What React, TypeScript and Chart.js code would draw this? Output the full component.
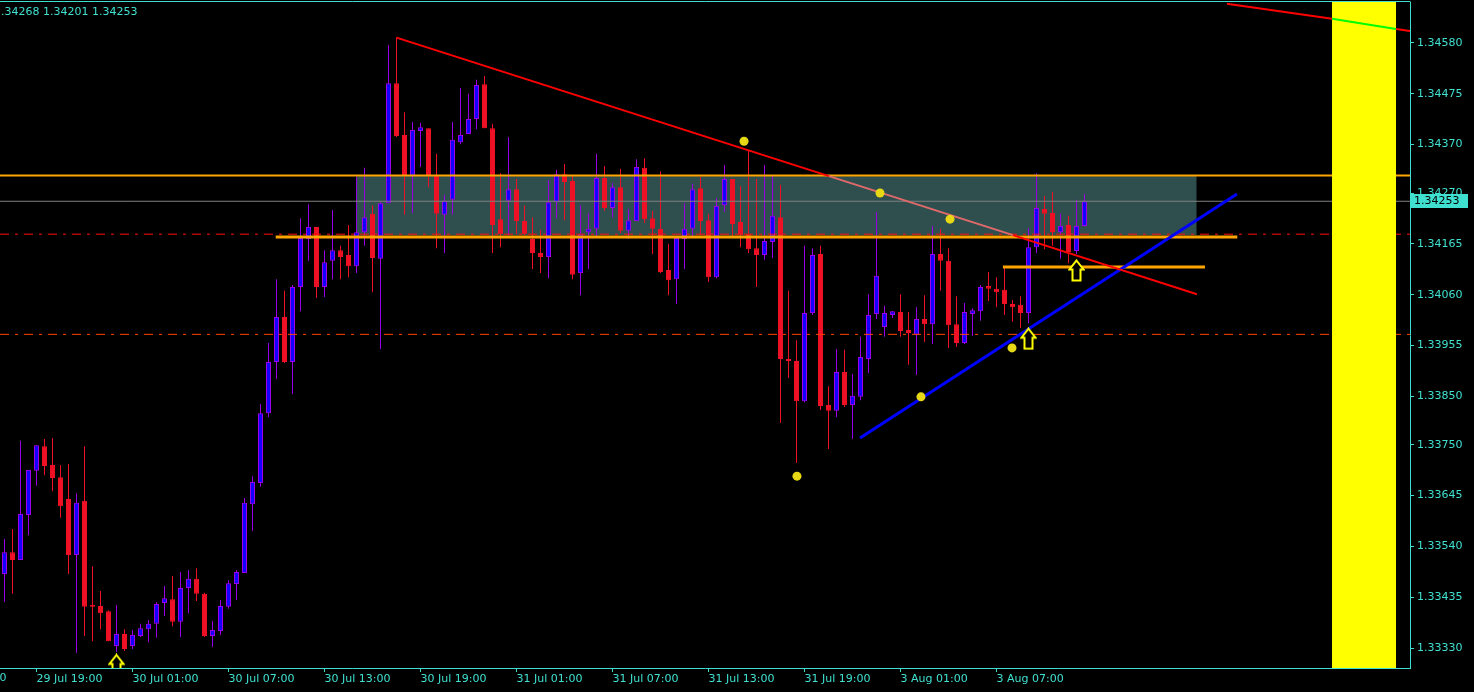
import React, { useEffect, useRef } from "react";
import { Chart, registerables } from "chart.js";

Chart.register(...registerables);

// ---- candle data (M30 bars, index 0 = 29 Jul 17:00) ----
const OPEN = [
  1.33483, 1.33528, 1.33512, 1.33605, 1.33696, 1.33747, 1.33708, 1.33683, 1.33638, 1.33522,
  1.33634, 1.33419, 1.33417, 1.33406, 1.33334, 1.33359, 1.33334, 1.33355, 1.33369, 1.33380,
  1.33423, 1.33431, 1.33384, 1.33454, 1.33473, 1.33442, 1.33355, 1.33365, 1.33415, 1.33462,
  1.33485, 1.33627, 1.33671, 1.33815, 1.33921, 1.34014, 1.33921, 1.34076, 1.34175, 1.34200,
  1.34076, 1.34130, 1.34152, 1.34142, 1.34119, 1.34189, 1.34227, 1.34134, 1.34249, 1.34497,
  1.34390, 1.34305, 1.34398, 1.34404, 1.34305, 1.34225, 1.34256, 1.34375, 1.34392, 1.34423,
  1.34495, 1.34404, 1.34216, 1.34254, 1.34278, 1.34212, 1.34175, 1.34146, 1.34138, 1.34251,
  1.34309, 1.34295, 1.34105, 1.34189, 1.34196, 1.34301, 1.34239, 1.34282, 1.34192, 1.34212,
  1.34322, 1.34218, 1.34196, 1.34111, 1.34092, 1.34175, 1.34196, 1.34280, 1.34214, 1.34096,
  1.34245, 1.34299, 1.34210, 1.34185, 1.34156, 1.34142, 1.34169, 1.34220, 1.33927, 1.33923,
  1.33840, 1.34022, 1.34144, 1.33832, 1.33820, 1.33900, 1.33832, 1.33849, 1.33927, 1.34020,
  1.33993, 1.34018, 1.34024, 1.33987, 1.33977, 1.34010, 1.33999, 1.34144, 1.34130, 1.33999,
  1.33960, 1.34020, 1.34026, 1.34078, 1.34072, 1.34070, 1.34041, 1.34039, 1.34022, 1.34158,
  1.34237, 1.34229, 1.34189, 1.34204, 1.34150, 1.34202,
];
const HIGH = [
  1.33555, 1.33576, 1.33758, 1.33698, 1.33749, 1.33762, 1.33764, 1.33708, 1.33710, 1.33650,
  1.33747, 1.33499, 1.33448, 1.33408, 1.33419, 1.33369, 1.33367, 1.33380, 1.33388, 1.33425,
  1.33458, 1.33479, 1.33487, 1.33491, 1.33495, 1.33444, 1.33386, 1.33429, 1.33470, 1.33491,
  1.33640, 1.33685, 1.33834, 1.33960, 1.34092, 1.34068, 1.34080, 1.34218, 1.34247, 1.34200,
  1.34152, 1.34235, 1.34161, 1.34204, 1.34303, 1.34322, 1.34245, 1.34251, 1.34576, 1.34592,
  1.34437, 1.34417, 1.34415, 1.34404, 1.34351, 1.34266, 1.34417, 1.34487, 1.34475, 1.34504,
  1.34512, 1.34413, 1.34311, 1.34386, 1.34299, 1.34245, 1.34220, 1.34194, 1.34297, 1.34318,
  1.34330, 1.34305, 1.34245, 1.34229, 1.34351, 1.34326, 1.34291, 1.34320, 1.34237, 1.34340,
  1.34342, 1.34233, 1.34315, 1.34165, 1.34177, 1.34249, 1.34289, 1.34303, 1.34227, 1.34260,
  1.34328, 1.34299, 1.34284, 1.34357, 1.34299, 1.34328, 1.34307, 1.34287, 1.34068, 1.33966,
  1.34161, 1.34156, 1.34161, 1.33871, 1.33948, 1.33946, 1.33896, 1.33973, 1.34061, 1.34231,
  1.34037, 1.34026, 1.34061, 1.34024, 1.34034, 1.34059, 1.34202, 1.34196, 1.34156, 1.34057,
  1.34043, 1.34032, 1.34080, 1.34107, 1.34096, 1.34117, 1.34049, 1.34057, 1.34198, 1.34311,
  1.34264, 1.34272, 1.34227, 1.34223, 1.34256, 1.34268,
];
const LOW = [
  1.33425, 1.33442, 1.33512, 1.33563, 1.33665, 1.33687, 1.33654, 1.33599, 1.33483, 1.33320,
  1.33355, 1.33344, 1.33369, 1.33344, 1.33322, 1.33324, 1.33328, 1.33353, 1.33342, 1.33351,
  1.33396, 1.33375, 1.33353, 1.33402, 1.33427, 1.33353, 1.33332, 1.33357, 1.33411, 1.33429,
  1.33485, 1.33572, 1.33663, 1.33807, 1.33886, 1.33919, 1.33855, 1.34026, 1.34130, 1.34053,
  1.34055, 1.34092, 1.34092, 1.34096, 1.34105, 1.34161, 1.34065, 1.33948, 1.34249, 1.34386,
  1.34225, 1.34229, 1.34324, 1.34282, 1.34156, 1.34146, 1.34225, 1.34371, 1.34392, 1.34402,
  1.34404, 1.34146, 1.34158, 1.34183, 1.34185, 1.34183, 1.34113, 1.34105, 1.34094, 1.34218,
  1.34214, 1.34092, 1.34059, 1.34113, 1.34177, 1.34233, 1.34220, 1.34187, 1.34175, 1.34212,
  1.34208, 1.34144, 1.34105, 1.34059, 1.34041, 1.34113, 1.34179, 1.34183, 1.34086, 1.34094,
  1.34231, 1.34177, 1.34158, 1.34146, 1.34076, 1.34132, 1.34136, 1.33795, 1.33888, 1.33712,
  1.33838, 1.34018, 1.33822, 1.33741, 1.33807, 1.33828, 1.33762, 1.33842, 1.33898, 1.34010,
  1.33973, 1.34012, 1.33973, 1.33915, 1.33894, 1.33962, 1.33958, 1.34068, 1.33950, 1.33952,
  1.33958, 1.33975, 1.34006, 1.34047, 1.34034, 1.34018, 1.34004, 1.33991, 1.34001, 1.34146,
  1.34154, 1.34161, 1.34134, 1.34125, 1.34144, 1.34201,
];
const CLOSE = [
  1.33528, 1.33512, 1.33607, 1.33698, 1.33749, 1.33706, 1.33681, 1.33623, 1.33522, 1.33630,
  1.33415, 1.33415, 1.33402, 1.33344, 1.33359, 1.33328, 1.33357, 1.33371, 1.33380, 1.33421,
  1.33433, 1.33384, 1.33454, 1.33473, 1.33442, 1.33355, 1.33367, 1.33417, 1.33464, 1.33487,
  1.33630, 1.33673, 1.33815, 1.33921, 1.34014, 1.33921, 1.34076, 1.34177, 1.34200, 1.34076,
  1.34127, 1.34152, 1.34138, 1.34119, 1.34189, 1.34220, 1.34136, 1.34249, 1.34497, 1.34388,
  1.34305, 1.34400, 1.34406, 1.34305, 1.34227, 1.34254, 1.34380, 1.34390, 1.34423, 1.34493,
  1.34404, 1.34204, 1.34185, 1.34278, 1.34212, 1.34185, 1.34146, 1.34138, 1.34251, 1.34309,
  1.34293, 1.34101, 1.34185, 1.34196, 1.34301, 1.34239, 1.34282, 1.34192, 1.34214, 1.34324,
  1.34216, 1.34196, 1.34107, 1.34090, 1.34177, 1.34196, 1.34278, 1.34212, 1.34096, 1.34243,
  1.34299, 1.34206, 1.34183, 1.34154, 1.34142, 1.34171, 1.34223, 1.33927, 1.33923, 1.33840,
  1.34022, 1.34142, 1.33830, 1.33820, 1.33900, 1.33832, 1.33851, 1.33931, 1.34018, 1.34099,
  1.34022, 1.34026, 1.33985, 1.33981, 1.34010, 1.33999, 1.34144, 1.34130, 1.33997, 1.33960,
  1.34024, 1.34028, 1.34076, 1.34072, 1.34065, 1.34041, 1.34034, 1.34022, 1.34158, 1.34239,
  1.34227, 1.34189, 1.34202, 1.34148, 1.34202, 1.34253,
];

// ---- axes ----
const X_MIN = -0.5625;
const X_MAX = 175.6875;
const Y_MIN = 1.332887;
const Y_MAX = 1.346647;
const PRICE_TICKS = [1.3458, 1.34475, 1.3437, 1.3427, 1.34165, 1.3406, 1.33955, 1.3385, 1.3375, 1.33645, 1.3354, 1.33435, 1.3333];
const TIME_TICK_INDEX = [4, 16, 28, 40, 52, 64, 76, 88, 100, 112, 124];
const TIME_TICK_LABELS = [
  "29 Jul 19:00", "30 Jul 01:00", "30 Jul 07:00", "30 Jul 13:00", "30 Jul 19:00",
  "31 Jul 01:00", "31 Jul 07:00", "31 Jul 13:00", "31 Jul 19:00", "3 Aug 01:00", "3 Aug 07:00",
];
const PREV_TIME_INDEX = -8;
const PREV_TIME_LABEL = "29 Jul 13:00";
const HEADER_TEXT = "1.34268 1.34201 1.34253";
const LAST_PRICE = 1.34253;

// ---- drawn objects ----
const ZONE_X = [44, 149];
const ZONE_Y = [1.34183, 1.34305];
const BAND_X = [165.94, 173.94];
const ORANGE_TOP = 1.34306;
const ORANGE_MID_X = [33.9, 154.1];
const ORANGE_MID = 1.34179;
const ORANGE_LOW_X = [124.8, 150.06];
const ORANGE_LOW = 1.34117;
const DASH_RED = 1.34185;
const DASH_ORANGE = 1.33978;
const RED_TREND_X = [49, 103.06, 126.06, 149.06];
const RED_TREND_Y = [1.34591, 1.34305, 1.34183, 1.34061];
const TOP_TREND_X = [152.8, 165.94, 173.94, 175.69];
const TOP_TREND_Y = [1.34661, 1.3463, 1.34609, 1.34605];
const BLUE_TREND_X = [106.94, 154.06];
const BLUE_TREND_Y = [1.33764, 1.34268];
const DOT_X = [92.44, 109.44, 118.19, 125.94, 114.56, 99.06];
const DOT_Y = [1.34377, 1.3427, 1.34216, 1.3395, 1.33849, 1.33685];
const ARROW_X = [14, 128, 134];
const ARROW_Y = [1.33295, 1.33969, 1.3411];

// ---- colours ----
const CYAN = "#40E0D0";
const BULL_FILL = "#1400FF";
const BULL_EDGE = "#9A00E6";
const BEAR = "#EE1025";
const ORANGE = "#FFA500";
const ZONE = "#2F4F4F";
const DOT = "#E6D814";

const TOP_TREND_DATASET = 3;

function makeArrow(): HTMLCanvasElement {
  const c = document.createElement("canvas");
  c.width = 17;
  c.height = 23;
  const g = c.getContext("2d")!;
  g.beginPath();
  g.moveTo(8.5, 1.5);
  g.lineTo(15.5, 10.5);
  g.lineTo(12.5, 10.5);
  g.lineTo(12.5, 21.5);
  g.lineTo(4.5, 21.5);
  g.lineTo(4.5, 10.5);
  g.lineTo(1.5, 10.5);
  g.closePath();
  g.fillStyle = "#000";
  g.fill();
  g.strokeStyle = "#FFFF00";
  g.lineWidth = 2;
  g.stroke();
  return c;
}

function lineDs(xs: number[], ys: number[], color: string, width: number, order: number, extra: any = {}) {
  return {
    type: "line",
    data: xs.map((x, i) => ({ x, y: ys[i] })),
    borderColor: color,
    borderWidth: width,
    pointRadius: 0,
    fill: false,
    tension: 0,
    order,
    ...extra,
  };
}

function clipArea(ctx: CanvasRenderingContext2D, a: any) {
  ctx.beginPath();
  ctx.rect(a.left, a.top, a.right - a.left, a.bottom - a.top);
  ctx.clip();
}

const mtPlugin = {
  id: "mtDecor",
  beforeDatasetsDraw(chart: any) {
    const { ctx, chartArea, scales } = chart;
    const x = scales.x;
    const y = scales.y;
    ctx.save();
    clipArea(ctx, chartArea);
    const z0 = x.getPixelForValue(ZONE_X[0]);
    const z1 = x.getPixelForValue(ZONE_X[1]);
    const zt = y.getPixelForValue(ZONE_Y[1]);
    const zb = y.getPixelForValue(ZONE_Y[0]);
    ctx.fillStyle = ZONE;
    ctx.fillRect(z0, zt, z1 - z0, zb - zt);
    ctx.restore();
  },
  beforeDatasetDraw(chart: any, args: any) {
    if (args.index !== TOP_TREND_DATASET) return;
    const { ctx, chartArea, scales } = chart;
    const x = scales.x;
    ctx.save();
    clipArea(ctx, chartArea);
    const b0 = x.getPixelForValue(BAND_X[0]);
    const b1 = x.getPixelForValue(BAND_X[1]);
    ctx.fillStyle = "#FFFF00";
    ctx.fillRect(b0, chartArea.top, b1 - b0, chartArea.bottom - chartArea.top);
    ctx.restore();
  },
  afterDraw(chart: any) {
    const { ctx, chartArea, scales } = chart;
    const x = scales.x;
    const y = scales.y;
    ctx.save();
    // top frame line
    ctx.strokeStyle = CYAN;
    ctx.lineWidth = 1;
    ctx.beginPath();
    ctx.moveTo(0, chartArea.top - 0.5);
    ctx.lineTo(chartArea.right + 0.5, chartArea.top - 0.5);
    ctx.stroke();
    ctx.font = "11px 'DejaVu Sans'";
    ctx.textAlign = "left";
    // partially visible previous time label
    ctx.fillStyle = CYAN;
    ctx.textBaseline = "top";
    ctx.fillText(PREV_TIME_LABEL, x.getPixelForValue(PREV_TIME_INDEX), chartArea.bottom + 5);
    // header text
    ctx.textBaseline = "middle";
    ctx.fillText(HEADER_TEXT, -6, 12);
    // last price label
    const py = Math.round(y.getPixelForValue(LAST_PRICE));
    ctx.fillStyle = CYAN;
    ctx.fillRect(chartArea.right + 1, py - 7, 57, 14);
    ctx.fillStyle = "#000";
    ctx.fillText(LAST_PRICE.toFixed(5), chartArea.right + 4, py + 0.5);
    ctx.restore();
  },
};

export default function App() {
  const ref = useRef<HTMLCanvasElement | null>(null);

  useEffect(() => {
    if (!ref.current) return;
    const arrow = makeArrow();
    const bull = (i: number) => CLOSE[i] >= OPEN[i];
    const full = [X_MIN, X_MAX];

    const datasets: any[] = [
      {
        type: "scatter",
        data: ARROW_X.map((x, i) => ({ x, y: ARROW_Y[i] })),
        pointStyle: arrow,
        pointRadius: 11,
        clip: 0,
        order: 0,
      },
      {
        type: "scatter",
        data: DOT_X.map((x, i) => ({ x, y: DOT_Y[i] })),
        pointRadius: 4.5,
        backgroundColor: DOT,
        borderWidth: 0,
        order: 1,
      },
      lineDs(RED_TREND_X, RED_TREND_Y, "#FF0000", 2, 2, {
        segment: { borderColor: (c: any) => (c.p0DataIndex === 1 ? "#E06A6A" : undefined) },
      }),
      lineDs(TOP_TREND_X, TOP_TREND_Y, "#FF0000", 2, 2, {
        segment: { borderColor: (c: any) => (c.p0DataIndex === 1 ? "#00FF00" : undefined) },
      }),
      lineDs(BLUE_TREND_X, BLUE_TREND_Y, "#0000FF", 3, 2),
      lineDs(full, [ORANGE_TOP, ORANGE_TOP], ORANGE, 2, 3),
      lineDs(ORANGE_MID_X, [ORANGE_MID, ORANGE_MID], ORANGE, 3, 3),
      lineDs(ORANGE_LOW_X, [ORANGE_LOW, ORANGE_LOW], ORANGE, 3, 3),
      lineDs(full, [LAST_PRICE, LAST_PRICE], "#808080", 1, 3),
      lineDs(full, [DASH_RED, DASH_RED], "#FF1010", 1, 4, { borderDash: [9, 6, 3, 6] }),
      lineDs(full, [DASH_ORANGE, DASH_ORANGE], "#FF4500", 1, 4, { borderDash: [9, 6, 3, 6] }),
      {
        type: "bar",
        data: OPEN.map((o, i) => ({ x: i, y: [o, CLOSE[i]] })),
        backgroundColor: OPEN.map((_, i) => (bull(i) ? BULL_FILL : BEAR)),
        borderColor: OPEN.map((_, i) => (bull(i) ? BULL_EDGE : BEAR)),
        borderWidth: 1,
        borderSkipped: false,
        barThickness: 5,
        minBarLength: 1,
        grouped: false,
        inflateAmount: 0,
        order: 5,
      },
      {
        type: "bar",
        data: OPEN.map((_, i) => ({ x: i, y: [LOW[i], HIGH[i]] })),
        backgroundColor: OPEN.map((_, i) => (bull(i) ? BULL_EDGE : BEAR)),
        borderWidth: 0,
        barThickness: 1,
        grouped: false,
        inflateAmount: 0,
        order: 6,
      },
    ];

    const chart = new Chart(ref.current, {
      type: "bar",
      data: { datasets },
      options: {
        responsive: false,
        maintainAspectRatio: false,
        devicePixelRatio: 1,
        animation: false,
        events: [],
        layout: { autoPadding: false, padding: { top: 2, left: 0, right: 0, bottom: 0 } },
        font: { family: "'DejaVu Sans'", size: 11 },
        plugins: { legend: { display: false }, tooltip: { enabled: false } },
        scales: {
          x: {
            type: "linear",
            position: "bottom",
            min: X_MIN,
            max: X_MAX,
            bounds: "data",
            offset: false,
            afterBuildTicks: (axis: any) => {
              axis.ticks = TIME_TICK_INDEX.map((v) => ({ value: v }));
            },
            afterFit: (axis: any) => {
              axis.height = 24;
              axis.paddingLeft = 0;
              axis.paddingRight = 0;
              axis.paddingTop = 0;
              axis.paddingBottom = 0;
            },
            ticks: {
              autoSkip: false,
              maxRotation: 0,
              minRotation: 0,
              align: "start",
              padding: 1,
              color: CYAN,
              font: { family: "'DejaVu Sans'", size: 11 },
              callback: (_v: any, i: number) => TIME_TICK_LABELS[i],
            },
            grid: { offset: false, drawOnChartArea: false, drawTicks: true, tickLength: 4, color: CYAN },
            border: { display: true, color: CYAN, width: 1 },
          },
          y: {
            type: "linear",
            position: "right",
            min: Y_MIN,
            max: Y_MAX,
            bounds: "data",
            beginAtZero: false,
            afterBuildTicks: (axis: any) => {
              axis.ticks = PRICE_TICKS.map((v) => ({ value: v }));
            },
            afterFit: (axis: any) => {
              axis.width = 64;
              axis.paddingLeft = 0;
              axis.paddingRight = 0;
              axis.paddingTop = 0;
              axis.paddingBottom = 0;
            },
            ticks: {
              autoSkip: false,
              padding: 3,
              color: CYAN,
              font: { family: "'DejaVu Sans'", size: 11 },
              callback: (v: any) => Number(v).toFixed(5),
            },
            grid: { drawOnChartArea: false, drawTicks: true, tickLength: 4, color: CYAN },
            border: { display: true, color: CYAN, width: 1 },
          },
        },
      } as any,
      plugins: [mtPlugin],
    } as any);

    return () => chart.destroy();
  }, []);

  return (
    <div style={{ position: "fixed", left: 0, top: 0, width: 1474, height: 692, background: "#000" }}>
      <canvas ref={ref} width={1474} height={692} style={{ display: "block", width: 1474, height: 692 }} />
    </div>
  );
}
